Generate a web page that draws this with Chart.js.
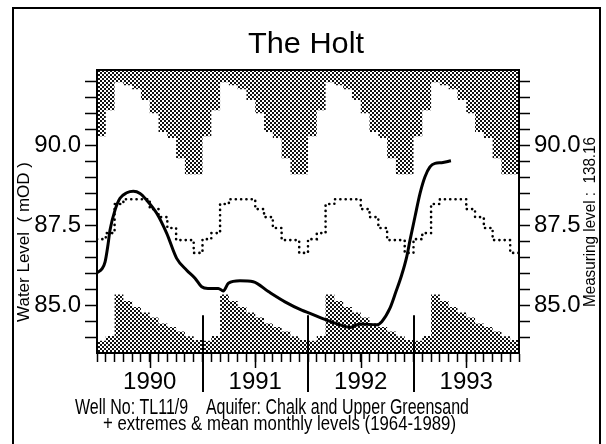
<!DOCTYPE html>
<html>
<head>
<meta charset="utf-8">
<title>The Holt</title>
<script src="https://cdn.jsdelivr.net/npm/chart.js@4.4.1/dist/chart.umd.min.js"></script>
<style>
  html, body { margin: 0; padding: 0; background: #fff; }
  canvas { display: block; }
</style>
</head>
<body>
<canvas id="holtChart" width="606" height="444"></canvas>
<script>
// years on the x axis
var years = [1990, 1991, 1992, 1993];

// long term monthly levels 1964-1989, Jan..Dec (mOD)
var maxLevel  = [90.28, 91.09, 91.97, 91.87, 91.75, 91.41, 91.00, 90.41, 90.22, 89.59, 89.09, 89.09];
var meanLevel = [87.06, 87.25, 88.16, 88.31, 88.31, 88.31, 88.00, 87.75, 87.41, 87.03, 87.03, 86.63];
var minLevel  = [83.88, 84.03, 85.33, 85.13, 84.94, 84.77, 84.61, 84.42, 84.31, 84.17, 84.02, 83.91];

// observed water level (decimal year, mOD)
var obsDate = [1990.000, 1990.047, 1990.076, 1990.104, 1990.123, 1990.171, 1990.218, 1990.282,
  1990.344, 1990.408, 1990.471, 1990.566, 1990.661, 1990.755, 1990.850, 1990.929, 1990.992,
  1991.052, 1991.150, 1991.197, 1991.245, 1991.355, 1991.481, 1991.624, 1991.782, 1991.940,
  1992.019, 1992.177, 1992.303, 1992.398, 1992.493, 1992.651, 1992.699, 1992.777, 1992.834,
  1992.888, 1992.935, 1992.967, 1993.014, 1993.062, 1993.109, 1993.156, 1993.204, 1993.267, 1993.355];
var obsLevel = [86.01, 86.13, 86.34, 86.88, 87.34, 87.97, 88.34, 88.51,
  88.56, 88.49, 88.28, 87.87, 87.24, 86.46, 86.09, 85.84, 85.57,
  85.52, 85.52, 85.44, 85.68, 85.76, 85.73, 85.42, 85.10, 84.84,
  84.74, 84.53, 84.38, 84.30, 84.41, 84.38, 84.48, 84.90, 85.42,
  85.94, 86.50, 87.03, 87.76, 88.49, 89.01, 89.32, 89.43, 89.45, 89.51];

// y axis ticks every 0.5 m, labels on three of them
var yTicks = [84.0, 84.5, 85.0, 85.5, 86.0, 86.5, 87.0, 87.5, 88.0, 88.5, 89.0, 89.5, 90.0, 90.5, 91.0, 91.5, 92.0];
var yLabelled = [85.0, 87.5, 90.0];

Chart.defaults.font.family = "'Liberation Sans', Arial, sans-serif";
Chart.defaults.color = '#000';

function monthly(values) {
  var pts = [];
  years.forEach(function (yr) {
    values.forEach(function (v, m) { pts.push({ x: yr + m / 12, y: v }); });
  });
  pts.push({ x: years[years.length - 1] + 1, y: values[values.length - 1] });
  return pts;
}

function makePattern(ctx) {
  var c = document.createElement('canvas');
  c.width = 4; c.height = 4;
  var g = c.getContext('2d');
  g.fillStyle = '#fff';
  g.fillRect(0, 0, 4, 4);
  g.fillStyle = '#111';
  g.fillRect(0, 0, 2, 2);
  g.fillRect(2, 2, 2, 2);
  return ctx.createPattern(c, 'repeat');
}

function fitText(ctx, text, x, y, width, rot) {
  var w = ctx.measureText(text).width;
  ctx.save();
  ctx.translate(x, y);
  if (rot) ctx.rotate(rot);
  ctx.scale(width / w, 1);
  ctx.fillText(text, 0, 0);
  ctx.restore();
}

var decorations = {
  id: 'decorations',
  beforeDraw: function (chart) {
    var ctx = chart.ctx;
    ctx.save();
    ctx.fillStyle = '#fff';
    ctx.fillRect(0, 0, chart.width, chart.height);
    ctx.restore();
  },
  afterDraw: function (chart) {
    var ctx = chart.ctx, a = chart.chartArea;
    var xs = chart.scales.x, ys = chart.scales.y;
    ctx.save();
    ctx.strokeStyle = '#000';
    ctx.lineWidth = 2;
    ctx.strokeRect(a.left, a.top, a.right - a.left, a.bottom - a.top);

    // year separators
    ctx.beginPath();
    years.slice(1).forEach(function (yr) {
      var px = Math.round(xs.getPixelForValue(yr));
      ctx.moveTo(px, ys.getPixelForValue(84.68));
      ctx.lineTo(px, a.bottom + 39);
    });
    ctx.stroke();

    // longer tick at mid year
    ctx.lineWidth = 1.5;
    ctx.beginPath();
    years.forEach(function (yr) {
      var px = Math.round(xs.getPixelForValue(yr + 0.5)) + 0.5;
      ctx.moveTo(px, a.bottom);
      ctx.lineTo(px, a.bottom + 15);
    });
    ctx.stroke();

    // outer frame
    ctx.lineWidth = 2;
    ctx.beginPath();
    ctx.moveTo(13, 444); ctx.lineTo(13, 8); ctx.lineTo(600, 8); ctx.lineTo(600, 444);
    ctx.stroke();

    // texts
    ctx.fillStyle = '#000';
    ctx.textBaseline = 'alphabetic';
    ctx.textAlign = 'center';
    ctx.font = "30px 'Liberation Sans', Arial, sans-serif";
    fitText(ctx, 'The Holt', 306, 53, 116);

    ctx.font = "17px 'Liberation Sans', Arial, sans-serif";
    fitText(ctx, 'Water Level  ( mOD )', 29, 242, 160, -Math.PI / 2);
    ctx.font = "16px 'Liberation Sans', Arial, sans-serif";
    fitText(ctx, 'Measuring level :  138.16', 595, 222, 170, -Math.PI / 2);

    ctx.textAlign = 'left';
    ctx.font = "22px 'Liberation Sans', Arial, sans-serif";
    fitText(ctx, 'Well No: TL11/9    Aquifer: Chalk and Upper Greensand', 75, 414, 394);
    ctx.font = "20px 'Liberation Sans', Arial, sans-serif";
    fitText(ctx, '+ extremes & mean monthly levels (1964-1989)', 103, 430, 353);
    ctx.restore();
  }
};

function yAxis(position, width, tickLen) {
  return {
    type: 'linear',
    position: position,
    min: 83.5,
    max: 92.35,
    afterBuildTicks: function (scale) {
      scale.ticks = yTicks.map(function (v) { return { value: v }; });
    },
    afterFit: function (scale) { scale.width = width; },
    grid: { drawOnChartArea: false, drawTicks: true, tickLength: tickLen, tickColor: '#000', tickWidth: 1.5 },
    border: { display: true, color: '#000', width: 2 },
    ticks: {
      padding: 4,
      font: { size: 24 },
      color: '#000',
      autoSkip: false,
      callback: function (v) {
        var hit = yLabelled.some(function (l) { return Math.abs(l - v) < 1e-6; });
        return hit ? v.toFixed(1) : '';
      }
    }
  };
}

var ctxH = document.getElementById('holtChart').getContext('2d');
var dots = makePattern(ctxH);

var holtChart = new Chart(ctxH, {
  type: 'line',
  data: {
    datasets: [{
      label: 'Observed level',
      data: obsDate.map(function (d, i) { return { x: d, y: obsLevel[i] }; }),
      borderColor: '#000',
      borderWidth: 3,
      cubicInterpolationMode: 'monotone',
      pointRadius: 0,
      fill: false
    }, {
      label: 'Mean monthly level',
      data: monthly(meanLevel),
      stepped: true,
      borderColor: '#000',
      borderWidth: 2.6,
      borderDash: [0.1, 5.2],
      borderCapStyle: 'round',
      pointRadius: 0,
      fill: false
    }, {
      label: 'Maximum',
      data: monthly(maxLevel),
      stepped: true,
      borderWidth: 0,
      borderColor: 'rgba(0,0,0,0)',
      backgroundColor: dots,
      pointRadius: 0,
      fill: 'end'
    }, {
      label: 'Minimum',
      data: monthly(minLevel),
      stepped: true,
      borderWidth: 0,
      borderColor: 'rgba(0,0,0,0)',
      backgroundColor: dots,
      pointRadius: 0,
      fill: 'start'
    }]
  },
  options: {
    responsive: false,
    animation: false,
    layout: { padding: { top: 70 } },
    plugins: { legend: { display: false }, tooltip: { enabled: false } },
    scales: {
      x: {
        type: 'linear',
        min: 1990,
        max: 1994,
        afterBuildTicks: function (scale) {
          var t = [];
          years.forEach(function (yr) {
            for (var m = 0; m < 12; m++) t.push({ value: yr + m / 12 });
          });
          t.push({ value: years[years.length - 1] + 1 });
          scale.ticks = t;
        },
        afterFit: function (scale) { scale.height = 91; },
        grid: { drawOnChartArea: false, drawTicks: true, tickLength: 9, tickColor: '#000', tickWidth: 1.5 },
        border: { display: true, color: '#000', width: 2 },
        ticks: {
          padding: 6,
          font: { size: 24 },
          color: '#000',
          autoSkip: false,
          maxRotation: 0,
          minRotation: 0,
          callback: function (v) {
            var i = years.findIndex(function (yr) { return Math.abs(yr + 0.5 - v) < 1e-6; });
            return i >= 0 ? String(years[i]) : '';
          }
        }
      },
      y: yAxis('left', 97, 12),
      y2: yAxis('right', 87, 11)
    }
  },
  plugins: [decorations]
});
</script>
</body>
</html>
